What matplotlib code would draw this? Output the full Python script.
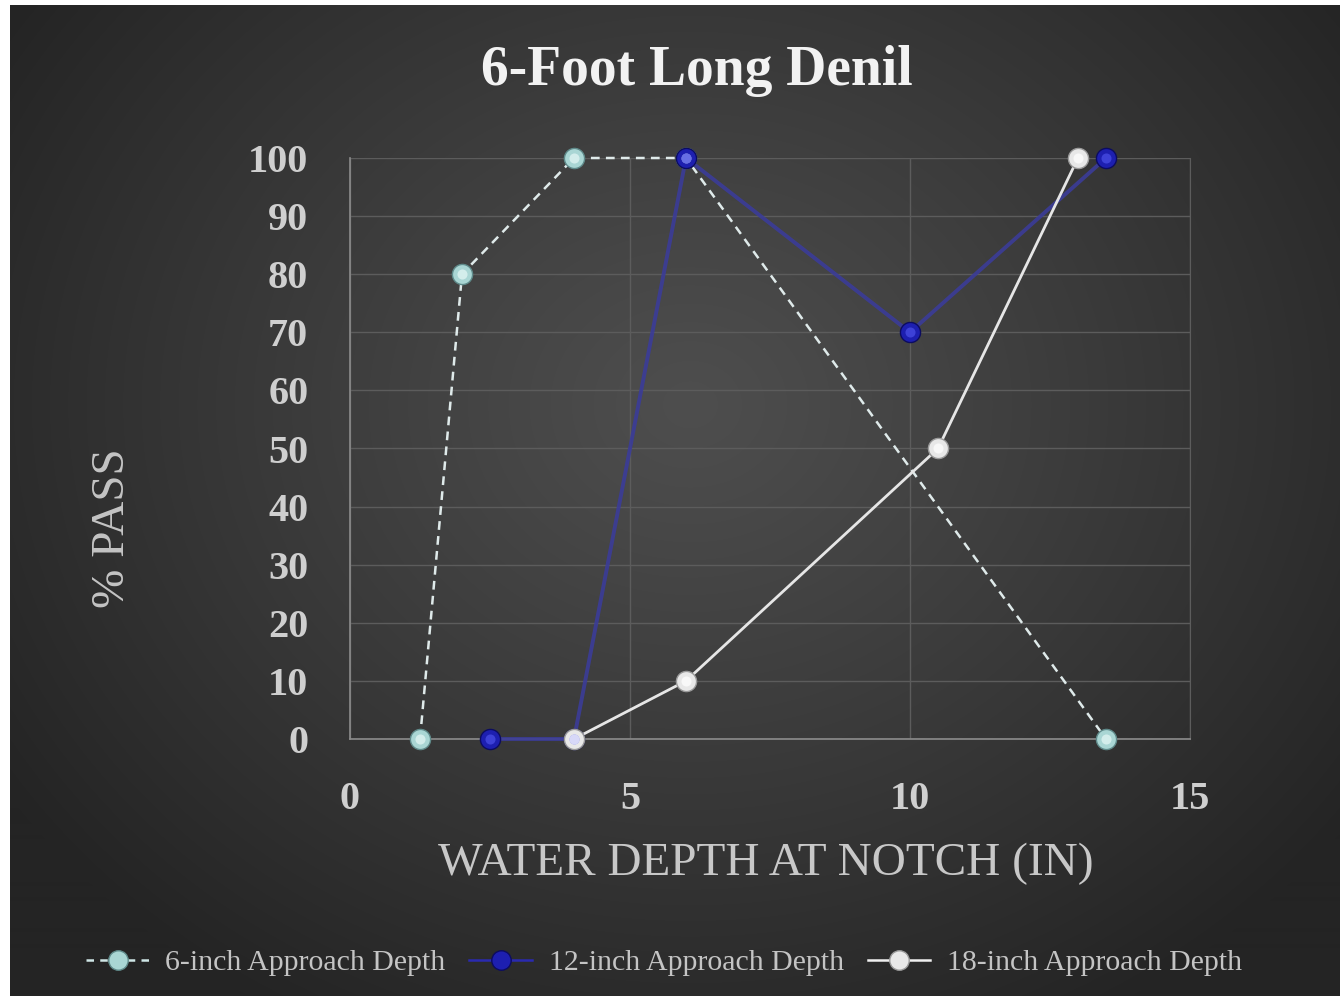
import numpy as np
import matplotlib
matplotlib.use("Agg")
import matplotlib.pyplot as plt
from matplotlib.lines import Line2D

# Series data: water depth at notch (in) vs. % pass
depth_6in = [1.25, 2, 4, 6, 13.5]
pass_6in = [0, 80, 100, 100, 0]

depth_12in = [2.5, 4, 6, 10, 13.5]
pass_12in = [0, 0, 100, 70, 100]

depth_18in = [4, 6, 10.5, 13]
pass_18in = [0, 10, 50, 100]

series_names = ["6-inch Approach Depth", "12-inch Approach Depth", "18-inch Approach Depth"]
x_ticks = [0, 5, 10, 15]
y_ticks = list(range(0, 101, 10))

W, H = 1340, 996
fig = plt.figure(figsize=(W / 100, H / 100), dpi=100, facecolor="white")

# Dark radial-gradient backdrop
bg = fig.add_axes([10 / W, 0, (W - 10) / W, (H - 5) / H])
bg.set_axis_off()
yy, xx = np.mgrid[0:991, 0:1330]
r = np.sqrt(((xx - 680) / 820.0) ** 2 + ((yy - 400) / 700.0) ** 2)
val = 78 - 42 * np.clip(r, 0, 1) ** 1.1
img = np.dstack([val, val, val]) / 255.0
bg.imshow(img, aspect="auto", interpolation="bilinear")

SERIF = ["Liberation Serif", "DejaVu Serif"]

ax = fig.add_axes([350 / W, 1 - 739 / H, 840 / W, 581 / H])
ax.patch.set_alpha(0)
ax.set_xlim(0, 15)
ax.set_ylim(0, 100)
ax.set_xticks(x_ticks)
ax.set_yticks(y_ticks)
ax.grid(True, color="#5c5c5c", lw=1.0)
ax.set_axisbelow(True)
ax.spines["right"].set_color("#5c5c5c")
ax.spines["top"].set_visible(False)
for side in ["left", "bottom"]:
    ax.spines[side].set_color("#8c8c8c")
    ax.spines[side].set_linewidth(1.2)
ax.tick_params(length=0, colors="#cfcfcf")
ax.tick_params(axis="y", pad=30)
ax.tick_params(axis="x", pad=30)
for lab in ax.get_xticklabels() + ax.get_yticklabels():
    lab.set_family(SERIF)
    lab.set_fontweight("bold")
    lab.set_fontsize(29)
    lab.set_color("#cfcfcf")


def sphere(x, y, face, edge, hl, ms=14.5):
    ax.plot(x, y, ls="none", marker="o", ms=ms, mfc=face, mec=edge, mew=1.0,
            zorder=5, clip_on=False)
    ax.plot(x, y, ls="none", marker="o", ms=ms * 0.5, mfc=hl, mec="none", alpha=0.7,
            zorder=6, clip_on=False)


# 6-inch approach depth
ax.plot(depth_6in, pass_6in, ls=(0, (3.5, 2.5)), color="#dfeaea", lw=1.8, zorder=3,
        clip_on=False)
sphere(depth_6in, pass_6in, "#a9d6d4", "#5f8a8a", "#e6f7f6")

# 12-inch approach depth
ax.plot(depth_12in, pass_12in, color="#3b3c98", lw=2.8, alpha=0.9, zorder=3, clip_on=False)
sphere(depth_12in, pass_12in, "#1d1fb0", "#0c0c60", "#4b50e8")

# 18-inch approach depth
ax.plot(depth_18in, pass_18in, color="#e6e6e6", lw=2.0, zorder=4, clip_on=False)
sphere(depth_18in, pass_18in, "#e8e8e8", "#9a9a9a", "#ffffff")

fig.text(697 / W, 1 - 71 / H, "6-Foot Long Denil", ha="center", va="center",
         family=SERIF, fontweight="bold", fontsize=40, color="#f2f2f2")
fig.text(113 / W, 1 - 528 / H, "% PASS", ha="center", va="center", rotation=90,
         family=SERIF, fontsize=34, color="#c4c4c4")
fig.text(766 / W, 1 - 864 / H, "WATER DEPTH AT NOTCH (IN)", ha="center", va="center",
         family=SERIF, fontsize=34, color="#c8c8c8")

# Legend
handles = [
    Line2D([], [], ls=(0, (3, 2.5)), color="#cfe6e6", lw=1.8, marker="o", ms=14,
           mfc="#a9d6d4", mec="#5f8a8a"),
    Line2D([], [], color="#2a2ab0", lw=1.8, marker="o", ms=14, mfc="#1d1fb0", mec="#0c0c60"),
    Line2D([], [], color="#f0f0f0", lw=1.8, marker="o", ms=14, mfc="#e8e8e8", mec="#9a9a9a"),
]
leg = fig.legend(handles, series_names, loc="center", bbox_to_anchor=(664 / W, 1 - 963 / H),
                 ncol=3, frameon=False, handlelength=2.1, handletextpad=0.55,
                 columnspacing=0.8, prop={"family": SERIF, "size": 21.5})
for t in leg.get_texts():
    t.set_color("#c4c4c4")

fig.savefig("out.png", dpi=100, facecolor="white")
